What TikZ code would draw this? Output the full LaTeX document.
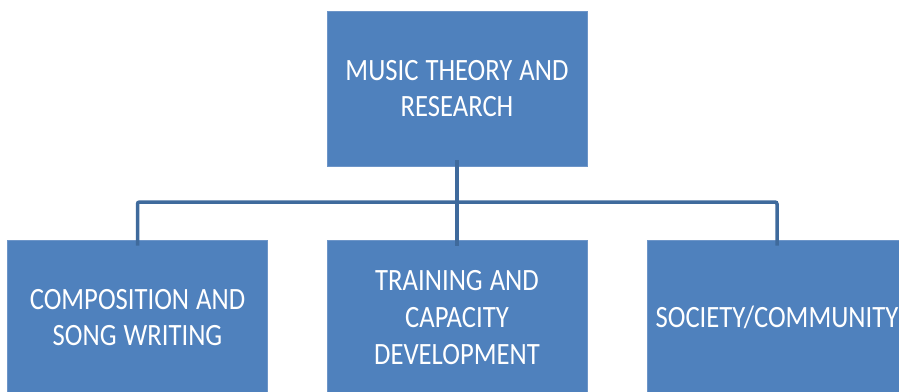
\documentclass[tikz,border=0pt]{standalone}
\usepackage{fontspec}
\setmainfont{Carlito}
\newfontfamily\boxfont[FakeStretch=0.86]{Carlito}
\newcommand\boxtextfont{\boxfont\fontsize{31}{36.7}\selectfont}
\newcommand\gp{\hspace{7pt}}
\definecolor{boxfill}{HTML}{4F81BD}
\definecolor{boxedge}{HTML}{6D95C8}
\definecolor{linecol}{HTML}{3F6A9C}
\begin{document}
\begin{tikzpicture}[x=1pt,y=-1pt,
  box/.style={draw=boxedge,line width=0.8pt,fill=boxfill,minimum width=260pt,minimum height=155pt,
    text width=256pt,text=white,align=center,inner sep=0pt,font=\boxtextfont},
  conn/.style={draw=linecol,line width=3.5pt,rounded corners=2pt}]
\useasboundingbox (0,0) rectangle (899,391);
\clip (0,0) rectangle (899,391);
\node[box] (top) at (457,88.5) {MUSIC\gp THEORY\gp AND\\RESEARCH};
\node[box] (left) at (137.5,317.5) {COMPOSITION\gp AND\\SONG\gp WRITING};
\node[box] (mid) at (457,317.5) {TRAINING\gp AND\\CAPACITY\\DEVELOPMENT};
\node[box] (right) at (777,317.5) {SOCIETY/COMMUNITY};
\coordinate (hub) at (457,202);
\coordinate (hl) at (137.5,202);
\coordinate (hr) at (777,202);
\draw[conn] ([yshift=6pt]top.south) -- ([yshift=-6pt]mid.north);
\draw[conn] ([yshift=-6pt]left.north) -- (hl) -- (hr) -- ([yshift=-6pt]right.north);
\end{tikzpicture}
\end{document}
